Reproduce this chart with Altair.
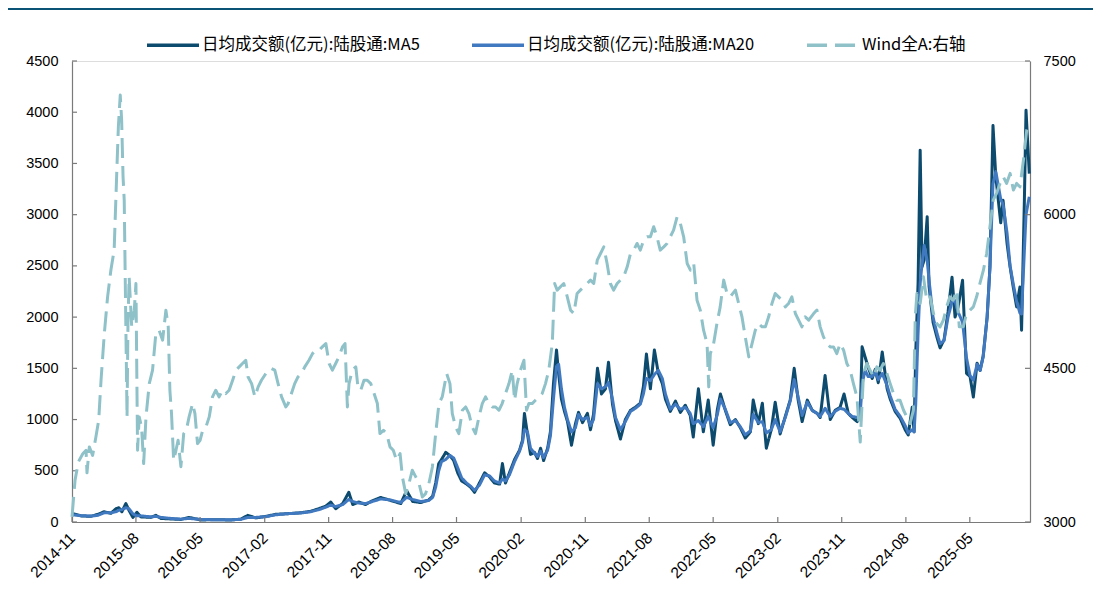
import altair as alt
import pandas as pd

# ---------------- data ----------------
S_MA5 = "日均成交额(亿元):陆股通:MA5"
S_MA20 = "日均成交额(亿元):陆股通:MA20"
S_WIND = "Wind全A:右轴"
series_names = [S_MA5, S_MA20, S_WIND]
series_colors = ["#0c4a6e", "#4079bf", "#8fc1c9"]
series_dash = [[1, 0], [1, 0], [20, 8]]

start_date = "2014-11-17"
end_date = "2026-01-29"
x_tick_dates = ["2014-11-17", "2015-08-17", "2016-05-17", "2017-02-17", "2017-11-17",
                "2018-08-17", "2019-05-17", "2020-02-17", "2020-11-17", "2021-08-17",
                "2022-05-17", "2023-02-17", "2023-11-17", "2024-08-17", "2025-05-17"]
left_ticks = [0, 500, 1000, 1500, 2000, 2500, 3000, 3500, 4000, 4500]
right_ticks = [3000, 4500, 6000, 7500]

# days since start_date
ma_day = [0, 38, 81, 111, 137, 166, 188, 200, 213, 230, 243, 260, 277, 294, 337, 358, 380, 422,
          465, 499, 550, 614, 678, 721, 751, 785, 828, 870, 913, 977, 1020, 1054, 1084, 1105,
          1126, 1156, 1182, 1199, 1224, 1254, 1276, 1318, 1361, 1404, 1429, 1455, 1489, 1523,
          1540, 1553, 1566, 1578, 1596, 1613, 1630, 1647, 1664, 1685, 1702, 1719, 1740, 1762,
          1783, 1804, 1826, 1838, 1851, 1868, 1890, 1911, 1924, 1932, 1945, 1958, 1975, 1988,
          2001, 2014, 2031, 2043, 2056, 2069, 2078, 2090, 2103, 2116, 2133, 2150, 2163, 2180,
          2201, 2214, 2227, 2244, 2261, 2278, 2291, 2308, 2321, 2342, 2363, 2385, 2406, 2427,
          2440, 2453, 2470, 2487, 2504, 2521, 2534, 2555, 2577, 2598, 2619, 2640, 2653, 2675,
          2696, 2717, 2738, 2756, 2769, 2790, 2811, 2833, 2854, 2875, 2897, 2909, 2931, 2948,
          2965, 2986, 3003, 3024, 3046, 3067, 3084, 3101, 3118, 3140, 3161, 3182, 3195, 3216,
          3238, 3259, 3280, 3297, 3315, 3332, 3353, 3366, 3374, 3387, 3400, 3417, 3430, 3443,
          3460, 3481, 3494, 3515, 3537, 3558, 3571, 3588, 3596, 3603, 3613, 3622, 3630, 3639,
          3652, 3660, 3677, 3694, 3707, 3724, 3741, 3758, 3771, 3784, 3803, 3820, 3835, 3849,
          3865, 3878, 3891, 3908, 3920, 3933, 3945, 3966, 3976, 3993, 4006, 4019, 4034, 4048,
          4055, 4067, 4074, 4088]
ma5_val = [85, 60, 55, 75, 100, 85, 130, 140, 100, 180, 115, 45, 95, 50, 45, 65, 35, 30,
           25, 45, 20, 22, 20, 28, 65, 40, 55, 75, 80, 90, 105, 130, 155, 195,
           130, 180, 290, 170, 195, 170, 200, 240, 210, 180, 305, 200, 190, 215,
           250, 380, 570, 610, 680, 650, 600, 480, 400, 370, 340, 290, 380, 480,
           440, 380, 370, 570, 380, 480, 610, 700, 800, 1060, 860, 660, 680, 620,
           720, 600, 720, 880, 1350, 1680, 1450, 1200, 1080, 980, 750, 960, 1070, 970,
           1060, 900, 1050, 1500, 1250, 1300, 1560, 1150, 990, 810, 1000, 1090, 1120, 1160,
           1320, 1640, 1300, 1680, 1450, 1350, 1200, 1080, 1180, 1070, 1140, 1040, 830, 1300,
           880, 1190, 750, 1100, 1250, 1090, 950, 1000, 920, 820, 880, 1190, 960, 1160,
           720, 900, 1170, 860, 1030, 1190, 1500, 1190, 980, 1190, 1090, 1060, 1020, 1430,
           1000, 1090, 1120, 1250, 1060, 1020, 980, 1060, 1710, 1610, 1510, 1400, 1490, 1360,
           1660, 1300, 1200, 1080, 1010, 900, 850, 1120, 880, 1650, 2330, 3630, 2490, 2560,
           2980, 2300, 1950, 1800, 1700, 1780, 2050, 2390, 2000, 2100, 2360, 1450, 1420, 1220,
           1550, 1480, 1620, 2000, 2490, 3870, 3370, 2920, 3140, 2720, 2490, 2300, 2100, 2295,
           1872, 3140, 4020, 3400]
ma20_val = [70, 62, 58, 65, 90, 90, 100, 115, 120, 140, 130, 80, 60, 60, 50, 55, 45, 35,
            28, 35, 25, 22, 22, 25, 45, 45, 52, 70, 80, 88, 100, 120, 145, 165,
            150, 170, 220, 200, 185, 180, 195, 225, 215, 190, 240, 220, 200, 210,
            240, 340, 500, 590, 610, 650, 625, 530, 430, 380, 350, 310, 360, 460,
            450, 400, 380, 420, 400, 460, 590, 690, 780, 900, 880, 720, 670, 640,
            690, 630, 700, 840, 1200, 1520, 1540, 1300, 1120, 1000, 880, 920, 1050, 1000,
            1020, 940, 1000, 1350, 1300, 1320, 1360, 1200, 1020, 900, 980, 1080, 1110, 1150,
            1250, 1400, 1380, 1440, 1480, 1400, 1250, 1100, 1150, 1100, 1120, 1060, 960, 990,
            930, 1030, 920, 1050, 1200, 1100, 970, 990, 930, 850, 890, 1050, 970, 980,
            870, 900, 1000, 880, 1020, 1180, 1390, 1220, 1040, 1170, 1090, 1060, 1030, 1110,
            1030, 1080, 1110, 1100, 1060, 1030, 1020, 1050, 1350, 1480, 1420, 1420, 1470, 1390,
            1450, 1330, 1230, 1100, 1030, 940, 870, 900, 880, 1150, 1840, 2330, 2520, 2700,
            2550, 2360, 2000, 1840, 1740, 1770, 2000, 2150, 2160, 2050, 1950, 1600, 1430, 1384,
            1540, 1480, 1610, 2000, 2490, 3300, 3420, 3150, 3100, 2820, 2500, 2330, 2150, 2040,
            2030, 2650, 3000, 3175]

wind_day = [0, 13, 27, 46, 60, 64, 74, 88, 102, 114, 124, 138, 152, 166, 180, 191, 198, 206,
            212, 218, 223, 235, 239, 244, 255, 266, 273, 280, 287, 297, 306, 316, 330, 344,
            358, 372, 387, 401, 411, 418, 425, 434, 444, 453, 465, 477, 488, 500, 515, 525,
            536, 547, 558, 572, 586, 600, 614, 628, 643, 657, 671, 686, 700, 714, 728, 742,
            752, 767, 781, 795, 809, 823, 837, 852, 866, 880, 895, 913, 923, 937, 951, 965,
            980, 994, 1012, 1027, 1041, 1055, 1069, 1084, 1098, 1112, 1126, 1140, 1155, 1166,
            1176, 1183, 1197, 1212, 1221, 1233, 1247, 1261, 1276, 1290, 1304, 1315, 1330, 1344,
            1358, 1372, 1386, 1401, 1411, 1425, 1439, 1453, 1468, 1482, 1496, 1510, 1524, 1539,
            1553, 1567, 1581, 1600, 1614, 1624, 1638, 1652, 1667, 1681, 1695, 1709, 1723, 1738,
            1752, 1766, 1780, 1795, 1809, 1823, 1837, 1851, 1866, 1880, 1890, 1901, 1915, 1930,
            1941, 1951, 1965, 1979, 1994, 2008, 2022, 2036, 2051, 2061, 2072, 2086, 2100, 2115,
            2129, 2143, 2157, 2171, 2186, 2200, 2214, 2228, 2243, 2257, 2271, 2285, 2299, 2313,
            2328, 2342, 2356, 2371, 2385, 2399, 2413, 2427, 2441, 2456, 2470, 2484, 2498, 2512,
            2527, 2541, 2555, 2569, 2584, 2598, 2612, 2627, 2641, 2655, 2669, 2683, 2697, 2712,
            2719, 2726, 2740, 2754, 2768, 2783, 2797, 2811, 2833, 2847, 2861, 2875, 2890, 2904,
            2918, 2932, 2947, 2961, 2975, 2989, 3003, 3017, 3032, 3046, 3060, 3074, 3089, 3103,
            3117, 3131, 3146, 3167, 3181, 3195, 3209, 3224, 3238, 3252, 3266, 3280, 3295, 3309,
            3323, 3337, 3352, 3366, 3380, 3394, 3408, 3423, 3437, 3451, 3465, 3480, 3494, 3508,
            3522, 3536, 3551, 3565, 3579, 3593, 3601, 3608, 3622, 3636, 3650, 3664, 3679, 3693,
            3707, 3721, 3735, 3749, 3763, 3778, 3789, 3806, 3820, 3835, 3849, 3863, 3877, 3892,
            3906, 3920, 3934, 3948, 3963, 3977, 3991, 4006, 4020, 4034, 4048, 4063, 4077, 4088]
wind_val = [3050, 3407, 3586, 3667, 3700, 3480, 3733, 3650, 3830, 3993, 4384, 4840, 5198, 5458,
            5654, 6403, 6858, 7168, 6924, 6370, 6142, 4026, 4937, 5393, 4905, 5068, 5328, 3700,
            4026, 3928, 3570, 4026, 4351, 4482, 4840, 4872, 4775, 5068, 4905, 4286, 4058, 3602,
            3700, 3798, 3540, 3863, 3895, 4026, 4156, 4058, 3765, 3798, 3895, 3928, 4026, 4221,
            4286, 4221, 4286, 4254, 4286, 4384, 4482, 4514, 4547, 4579, 4416, 4351, 4221, 4319,
            4384, 4433, 4482, 4498, 4482, 4351, 4221, 4123, 4156, 4254, 4351, 4416, 4449, 4514,
            4579, 4644, 4677, 4677, 4709, 4742, 4547, 4482, 4547, 4612, 4709, 4742, 4123, 4351,
            4482, 4514, 4319, 4286, 4384, 4384, 4351, 4254, 4156, 3863, 3895, 3863, 3733, 3700,
            3602, 3667, 3440, 3277, 3375, 3505, 3440, 3375, 3244, 3277, 3375, 3537, 3863, 4156,
            4221, 4449, 4351, 4058, 3928, 3863, 4091, 4123, 4058, 3928, 3863, 4026, 4156, 4221,
            4156, 4123, 4123, 4091, 4156, 4254, 4351, 4482, 4188, 4351, 4482, 4579, 4091, 4156,
            4156, 4188, 4221, 4254, 4351, 4482, 4742, 5328, 5263, 5296, 5328, 5198, 5068, 5035,
            5230, 5263, 5296, 5328, 5361, 5328, 5556, 5621, 5686, 5523, 5328, 5263, 5328, 5361,
            5393, 5491, 5621, 5654, 5719, 5654, 5751, 5784, 5784, 5882, 5784, 5654, 5686, 5719,
            5784, 5849, 5979, 5914, 5784, 5523, 5458, 5523, 5165, 5068, 4872, 4742, 4319, 4644,
            4742, 4937, 5100, 5361, 5230, 5198, 5263, 5133, 5003, 4807, 4612, 4742, 4872, 4937,
            4905, 4905, 5003, 5133, 5230, 5198, 5165, 5100, 5133, 5198, 5035, 4970, 4905, 5003,
            4970, 5035, 5068, 4905, 4807, 4742, 4709, 4709, 4644, 4742, 4677, 4547, 4482, 4351,
            4221, 3780, 4449, 4547, 4482, 4416, 4514, 4482, 4547, 4449, 4351, 4254, 4188, 4188,
            4091, 4026, 3961, 4091, 5003, 5230, 5133, 5393, 5165, 5198, 5035, 4937, 4905, 4970,
            5100, 5198, 5165, 5263, 4905, 4905, 5035, 5068, 5100, 5198, 5328, 5458, 5621, 5882,
            6142, 6208, 6305, 6370, 6305, 6403, 6240, 6305, 6272, 6533, 6826, 6891]

# ---------------- frames ----------------
t0 = pd.Timestamp(start_date)
ma_dates = t0 + pd.to_timedelta(ma_day, unit="D")
wind_dates = t0 + pd.to_timedelta(wind_day, unit="D")

df_ma5 = pd.DataFrame({"date": ma_dates, "val": ma5_val, "series": S_MA5})
df_ma20 = pd.DataFrame({"date": ma_dates, "val": ma20_val, "series": S_MA20})
df_wind = pd.DataFrame({"date": wind_dates, "val": wind_val, "series": S_WIND})
df_xt = pd.DataFrame({"date": pd.to_datetime(x_tick_dates)})
df_lt = pd.DataFrame({"val": left_ticks})
df_rt = pd.DataFrame({"val": right_ticks})
df_one = pd.DataFrame({"k": [0]})

# ---------------- styles ----------------
W, H = 958, 461
AXIS_COLOR = "#7a7a7a"
NUM_FONT = "Liberation Sans, Arial, Helvetica, sans-serif"
CJK_FONT = "Noto Sans CJK SC"


def dt(s):
    d = pd.Timestamp(s)
    return alt.DateTime(year=d.year, month=d.month, date=d.day)


xscale = alt.Scale(domain=[dt(start_date), dt(end_date)])
xaxis = alt.Axis(values=[dt(s) for s in x_tick_dates], format="%Y-%m", labelAngle=315,
                 labelAlign="right", labelBaseline="middle", labelPadding=13,
                 labelFont=NUM_FONT, labelFontSize=15.5, labelColor="#000000",
                 labelOverlap=False, labelFlush=False, ticks=False, grid=False,
                 domainColor=AXIS_COLOR, domainWidth=1.2, title=None)
X = alt.X("date:T", scale=xscale, axis=xaxis)

yl_axis = alt.Axis(values=left_ticks, orient="left", format="d", labelFont=NUM_FONT,
                   labelFontSize=14.5, labelColor="#000000", labelPadding=14, ticks=False,
                   grid=False, domainColor=AXIS_COLOR, domainWidth=1.2, title=None)
YL = alt.Y("val:Q", scale=alt.Scale(domain=[0, 4500], nice=False, zero=False), axis=yl_axis)

yr_axis = alt.Axis(values=right_ticks, orient="right", format="d", labelFont=NUM_FONT,
                   labelFontSize=14.5, labelColor="#000000", labelPadding=13, ticks=False,
                   grid=False, domainColor=AXIS_COLOR, domainWidth=1.2, title=None)
YR = alt.Y("val:Q", scale=alt.Scale(domain=[3000, 7500], nice=False, zero=False), axis=yr_axis)

legend = alt.Legend(orient="none", legendX=73, legendY=-44, direction="horizontal",
                    symbolType="stroke", symbolSize=2704, symbolStrokeWidth=3.5,
                    labelFont=CJK_FONT, labelFontSize=16.5, labelColor="#000000",
                    columnPadding=45, labelOffset=1, padding=0, labelLimit=400, title=None)
COLOR = alt.Color("series:N", scale=alt.Scale(domain=series_names, range=series_colors),
                  legend=legend)
DASH = alt.StrokeDash("series:N", scale=alt.Scale(domain=series_names, range=series_dash),
                      legend=legend)

ma5_line = alt.Chart(df_ma5).mark_line(strokeWidth=3, strokeJoin="round").encode(
    x=X, y=YL, color=COLOR, strokeDash=DASH)
ma20_line = alt.Chart(df_ma20).mark_line(strokeWidth=3, strokeJoin="round").encode(
    x=X, y=YL, color=COLOR, strokeDash=DASH)
x_ticks = alt.Chart(df_xt).mark_rule(color=AXIS_COLOR, strokeWidth=1.2).encode(
    x=X, y=alt.value(H), y2=alt.value(H - 5))
l_ticks = alt.Chart(df_lt).mark_rule(color=AXIS_COLOR, strokeWidth=1.2).encode(
    y=YL, x=alt.value(0), x2=alt.value(5))
header = alt.Chart(df_one).mark_rule(color="#0b5277", strokeWidth=2).encode(
    x=alt.value(-64), x2=alt.value(W + 63), y=alt.value(-52))

wind_line = alt.Chart(df_wind).mark_line(strokeWidth=3, strokeJoin="round").encode(
    x=X, y=YR, color=COLOR, strokeDash=DASH)
r_ticks = alt.Chart(df_rt).mark_rule(color=AXIS_COLOR, strokeWidth=1.2).encode(
    y=YR, x=alt.value(W - 5), x2=alt.value(W))

left_layer = alt.layer(ma5_line, ma20_line, x_ticks, l_ticks, header)
right_layer = alt.layer(wind_line, r_ticks)

chart = alt.layer(left_layer, right_layer).resolve_scale(y="independent").properties(
    width=W, height=H,
    autosize=alt.AutoSizeParams(type="none"),
    padding={"left": 64, "top": 53, "right": 63, "bottom": 60},
).configure_view(stroke="transparent").configure(background="white")

chart.save("out.html", embed_options={"renderer": "svg", "actions": False})
